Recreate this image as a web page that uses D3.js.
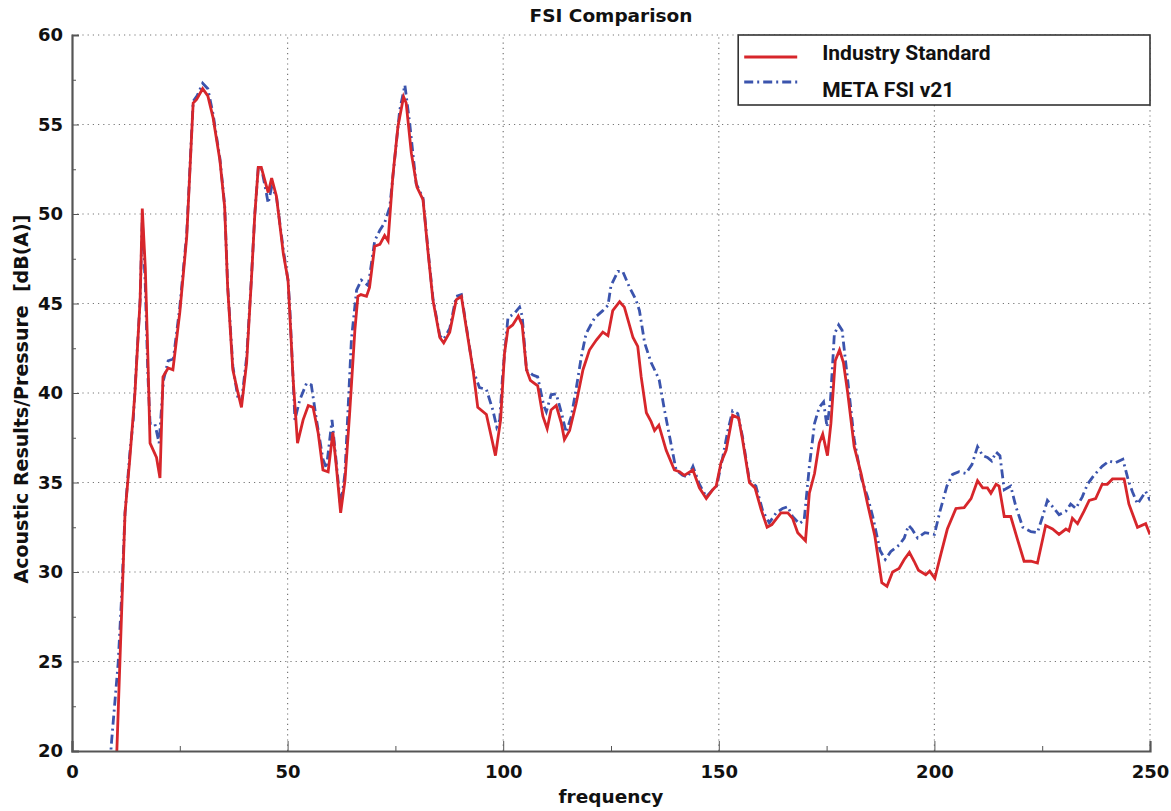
<!DOCTYPE html>
<html>
<head>
<meta charset="utf-8">
<script src="https://cdn.jsdelivr.net/npm/d3@7"></script>
<style>
  body { margin: 0; background: #fff; }
</style>
</head>
<body>
<svg id="chart"></svg>
<script>
// Chart size
const width = 1171;
const height = 811;
const margin = {top: 35, right: 21, bottom: 60, left: 72};

// Series data, [frequency, dB(A)]
const industryStandard = [
  [10,17.5],[10.4,20],[11.5,27.7],[12.3,33.3],[13.4,36.3],[14.6,40],[15.8,45.2],[16.3,50.3],[17.0,47],[17.6,42],
  [18.1,37.2],[19.6,36.4],[20.4,35.25],[21.1,40.9],[22.3,41.4],[23.4,41.3],[25,44.5],[26.6,48.7],[28.1,56.2],[28.9,56.4],
  [30.3,57.0],[31.5,56.6],[32.7,55.4],[34.3,53.0],[35.4,50.4],[36.1,45.9],[37.3,41.3],[38.5,40],[39.3,39.2],[40.5,41.7],
  [41.6,46.3],[42.4,50],[43.2,52.6],[43.9,52.6],[45.5,51.2],[46.3,52.0],[47.4,51.0],[49,47.8],[50.1,46.3],[50.5,44.5],
  [51.3,40.7],[52.3,37.2],[53.6,38.5],[54.8,39.3],[55.9,39.2],[57.1,37.75],[58.2,35.7],[59.4,35.6],[60.5,37.8],[61.3,35.9],
  [62.3,33.3],[63.3,35.1],[64.4,38.9],[65.6,43.5],[66.3,45.4],[67,45.5],[68.3,45.4],[69,45.9],[70.2,48.2],[71.4,48.3],
  [72.5,48.8],[73.3,48.5],[74.4,52.1],[75.6,54.9],[76.9,56.55],[77.5,56.2],[78.7,53.4],[80,51.5],[81.4,50.8],[82.6,47.8],
  [83.7,45.2],[85.3,43.1],[86.2,42.8],[87.6,43.4],[89.1,45.2],[90.3,45.4],[91.4,43.7],[93,41.3],[94.1,39.2],[96.1,38.8],
  [97.2,37.6],[98.2,36.5],[99.4,38.5],[100.3,42.2],[101.1,43.6],[102.2,43.8],[103.5,44.3],[104.4,43.8],[105.4,41.3],[106.3,40.7],
  [108,40.4],[109.2,38.7],[110.2,38.0],[111.1,39.05],[112.3,39.3],[113.5,38.3],[114.2,37.4],[115.4,37.9],[116.9,39.4],[118.5,41.3],
  [120,42.4],[121.6,42.96],[123.1,43.4],[124.3,43.2],[125.4,44.6],[127,45.1],[128.1,44.8],[130.1,43.1],[131.2,42.6],[132,40.9],
  [133.2,38.9],[134.3,38.4],[135.1,37.9],[136.1,38.2],[137.8,36.8],[139.7,35.7],[140.9,35.6],[142,35.4],[144,35.7],[145.5,34.7],
  [147.1,34.1],[148.6,34.6],[149.4,34.8],[150.5,36.1],[151.7,36.8],[153.2,38.75],[154.6,38.6],[155.5,37.4],[157.1,35.0],[158.4,34.7],
  [159.8,33.5],[161.2,32.5],[162.3,32.65],[164.4,33.3],[166,33.3],[167.1,33.0],[168.3,32.2],[170.1,31.75],[171,34.4],[172.2,35.5],
  [173.3,37.2],[174.1,37.7],[175.2,36.5],[176,38.3],[177,41.8],[178,42.4],[178.9,41.7],[179.9,40],[181.4,37.0],[183,35.5],
  [184.5,33.8],[186.2,32.0],[187.8,29.4],[189,29.2],[190.3,30.0],[191.8,30.2],[193,30.7],[194.2,31.1],[195.3,30.6],[196.3,30.1],
  [198,29.85],[198.9,30.05],[200.1,29.65],[201.5,31.0],[203,32.4],[205,33.55],[206.9,33.6],[208.5,34.1],[210,35.1],[211.2,34.7],
  [212.3,34.7],[213.1,34.4],[214.3,34.9],[215,34.8],[216.2,33.1],[217.7,33.1],[219.3,31.8],[220.8,30.6],[222.4,30.6],[223.9,30.5],
  [225.8,32.6],[227.4,32.4],[228.9,32.1],[230.5,32.4],[231.2,32.3],[232,33.0],[233.2,32.7],[234.7,33.4],[235.9,34.0],[237.4,34.1],
  [238.9,34.9],[240.1,34.9],[241.3,35.2],[242.8,35.2],[244,35.2],[245.1,33.8],[247.1,32.5],[249,32.7],[250,32.1]
];

const metaFsi = [
  [8.5,18.3],[9.2,20.6],[10.7,24.9],[11.5,28.6],[12.3,33.3],[13.4,36.6],[14.2,38.5],[15.8,45.2],[16.3,49.7],[17.0,46],
  [17.6,41],[18.1,38.3],[19.2,38.3],[20.2,37.2],[21.2,40.7],[22.3,41.8],[23.5,41.9],[25,44.8],[26.6,48.9],[28.1,56.3],
  [29,56.6],[30.3,57.3],[31.5,57.0],[32.7,55.6],[34.3,53.1],[35.4,50.5],[36.1,46],[37.3,41.5],[38.5,39.7],[39.3,39.5],
  [40.5,42],[41.6,46.4],[42.4,50],[43.2,52.6],[43.9,52.6],[44.9,51.4],[45.5,50.6],[46.3,51.5],[47.4,51.0],[49,48],
  [50.1,46.3],[50.5,44.8],[51.7,38.5],[52.8,39.6],[54.4,40.55],[55.5,40.45],[56.7,38.5],[58.2,36.3],[59,35.8],[60.3,38.5],
  [61.3,36.1],[62.3,33.65],[63.3,35.5],[64.8,43],[66,45.75],[67.1,46.3],[68.7,46.0],[70.2,48.5],[71.4,49.1],[72.5,49.5],
  [73.7,50.4],[74.8,53.0],[76,55.8],[77.2,57.2],[78.3,55.1],[79.8,51.7],[81.4,50.9],[82.6,47.9],[83.7,45.3],[85.3,43.2],
  [86.2,43],[87.6,43.6],[89.1,45.4],[90.3,45.5],[91.4,43.8],[93,41.3],[94.5,40.3],[96.1,40.2],[97.6,39.05],[98.5,38.1],
  [99.2,38.5],[99.9,41.1],[101.1,44.2],[102.6,44.45],[103.8,44.8],[104.4,44.3],[105.4,41.3],[106.9,41.0],[108,40.9],[109.4,39.3],
  [110,38.95],[111.1,39.9],[112.3,39.95],[113.5,38.9],[114.6,37.8],[115.8,38.7],[116.9,40.2],[118.1,42.0],[119.2,43.3],[121.2,44.2],
  [123.1,44.6],[124.3,44.9],[125,46.0],[126.6,46.8],[127.7,46.8],[129.3,45.9],[130.8,45.2],[131.6,44.6],[132.8,42.8],[134.3,41.7],
  [135.5,41.1],[136.2,40.7],[137.4,39.05],[138.6,37.55],[140.1,35.7],[141.6,35.4],[142.8,35.3],[144,35.9],[145.5,34.9],[147.1,34.2],
  [148.6,34.6],[149.5,34.8],[150.9,36.4],[152.1,37.9],[153.2,39.0],[154.4,38.85],[155.5,37.55],[157.1,35.1],[158.6,34.8],[160.2,33.4],
  [161.7,32.75],[163.3,33.3],[164.8,33.55],[166,33.65],[167.1,33.1],[168.7,32.7],[169.8,32.9],[171,35.9],[172.2,38.3],[173.3,39.2],
  [174.3,39.5],[175.1,38.1],[175.9,39.6],[176.8,43.3],[177.8,43.8],[178.6,43.5],[179.9,40.7],[181.4,37.4],[183.1,35.2],[184.5,34.2],
  [185.7,33.1],[187.4,31.2],[188.6,30.7],[189.9,31.15],[191.8,31.5],[193,31.9],[194,32.6],[194.8,32.4],[196.1,31.9],[197.8,32.2],
  [200,32.1],[201.3,33.4],[202.9,34.8],[204.2,35.45],[205.7,35.6],[207.3,35.5],[208.7,36.0],[210,37.0],[211.2,36.5],[212.3,36.4],
  [213.3,36.2],[214.3,36.7],[215.2,36.5],[216.2,34.6],[217.7,34.8],[218.9,33.65],[220.5,32.5],[222.4,32.25],[223.9,32.2],[225.1,33.1],
  [226.2,34.0],[227.4,33.65],[228.9,33.2],[230.5,33.4],[231.6,33.8],[232.8,33.55],[234.3,34.2],[235.5,34.9],[237,35.4],[238.9,35.9],
  [240.5,36.2],[242,36.1],[243.7,36.3],[245,35.1],[245.9,34.5],[247.1,33.8],[249,34.5],[250,34.0]
];

// Ticks and labels
const xTicks = [0, 50, 100, 150, 200, 250];
const xMinorTicks = [25, 75, 125, 175, 225];
const yTicks = [20, 25, 30, 35, 40, 45, 50, 55, 60];
const yMinorTicks = [22.5, 27.5, 32.5, 37.5, 42.5, 47.5, 52.5, 57.5];
const seriesNames = ["Industry Standard", "META FSI v21"];
const seriesColors = ["#d7262b", "#3b54ad"];

const svg = d3.select("#chart")
  .attr("width", width)
  .attr("height", height);

const x = d3.scaleLinear().domain([0, 250]).range([margin.left, width - margin.right]);
const y = d3.scaleLinear().domain([20, 60]).range([height - margin.bottom, margin.top]);

// Grid lines (dotted)
const grid = svg.append("g").attr("stroke", "#777").attr("stroke-width", 1.2).attr("stroke-dasharray", "1.2,4");
grid.selectAll(".gx").data(xTicks.slice(1)).enter().append("line")
  .attr("x1", d => x(d)).attr("x2", d => x(d))
  .attr("y1", y(20)).attr("y2", y(60));
grid.selectAll(".gy").data(yTicks.slice(1)).enter().append("line")
  .attr("x1", x(0)).attr("x2", x(250))
  .attr("y1", d => y(d)).attr("y2", d => y(d));

// Clip path for the lines
svg.append("clipPath").attr("id", "plot-clip")
  .append("rect")
  .attr("x", x(0)).attr("y", y(60))
  .attr("width", x(250) - x(0)).attr("height", y(20) - y(60));

const line = d3.line().x(d => x(d[0])).y(d => y(d[1]));

const lines = svg.append("g").attr("clip-path", "url(#plot-clip)").attr("fill", "none");
lines.append("path")
  .datum(metaFsi)
  .attr("d", line)
  .attr("stroke", seriesColors[1])
  .attr("stroke-width", 2.8)
  .attr("stroke-dasharray", "9,4,2,4");
lines.append("path")
  .datum(industryStandard)
  .attr("d", line)
  .attr("stroke", seriesColors[0])
  .attr("stroke-width", 2.8);

// Axes
svg.append("g").attr("transform", `translate(0,${y(20)})`)
  .call(d3.axisBottom(x).tickValues(xTicks).tickSize(-10).tickPadding(14));
svg.append("g").attr("transform", `translate(0,${y(20)})`)
  .call(d3.axisBottom(x).tickValues(xMinorTicks).tickSize(-5).tickFormat(""))
  .call(g => g.select(".domain").remove());
svg.append("g").attr("transform", `translate(${x(0)},0)`)
  .call(d3.axisLeft(y).tickValues(yTicks).tickSize(-7).tickPadding(9));
svg.append("g").attr("transform", `translate(${x(0)},0)`)
  .call(d3.axisLeft(y).tickValues(yMinorTicks).tickSize(-4).tickFormat(""))
  .call(g => g.select(".domain").remove());

svg.selectAll(".domain").attr("stroke", "#555").attr("stroke-width", 2.2);
svg.selectAll(".tick line").attr("stroke", "#555").attr("stroke-width", 1);
svg.selectAll(".tick text")
  .attr("font-size", 18).attr("font-family", "DejaVu Sans")
  .attr("font-weight", "bold").attr("fill", "#111");

// Title and axis labels
const labelFont = "DejaVu Sans";
svg.append("text")
  .attr("x", (x(0) + x(250)) / 2).attr("y", 22)
  .attr("text-anchor", "middle")
  .style("font-family", labelFont).style("font-weight", "bold").style("font-size", "18.5px")
  .attr("fill", "#111")
  .text("FSI Comparison");
svg.append("text")
  .attr("x", (x(0) + x(250)) / 2).attr("y", 803)
  .attr("text-anchor", "middle")
  .style("font-family", labelFont).style("font-weight", "bold").style("font-size", "18.5px")
  .attr("fill", "#111")
  .text("frequency");
svg.append("text")
  .attr("transform", `translate(28,${(y(20) + y(60)) / 2 + 6}) rotate(-90)`)
  .attr("text-anchor", "middle")
  .style("font-family", labelFont).style("font-weight", "bold").style("font-size", "19px")
  .style("white-space", "pre")
  .attr("fill", "#111")
  .text("Acoustic Results/Pressure  [dB(A)]");

// Legend
const legend = svg.append("g").attr("transform", `translate(${x(154.5)},${y(60)})`);
legend.append("rect")
  .attr("width", x(250) - x(154.5)).attr("height", 70)
  .attr("fill", "#fff").attr("stroke", "#333").attr("stroke-width", 1.6);
legend.selectAll(".key").data(seriesNames).enter().append("line")
  .attr("x1", 6).attr("x2", 59)
  .attr("y1", (d, i) => 22 + i * 25).attr("y2", (d, i) => 22 + i * 25)
  .attr("stroke", (d, i) => seriesColors[i])
  .attr("stroke-width", 2.8)
  .attr("stroke-dasharray", (d, i) => i === 1 ? "9,4,2,4" : null);
legend.selectAll(".label").data(seriesNames).enter().append("text")
  .attr("x", 84).attr("y", (d, i) => 25 + i * 37)
  .style("font-family", "Roboto").style("font-weight", "bold").style("font-size", "21px")
  .attr("fill", "#111")
  .text(d => d);
</script>
</body>
</html>
